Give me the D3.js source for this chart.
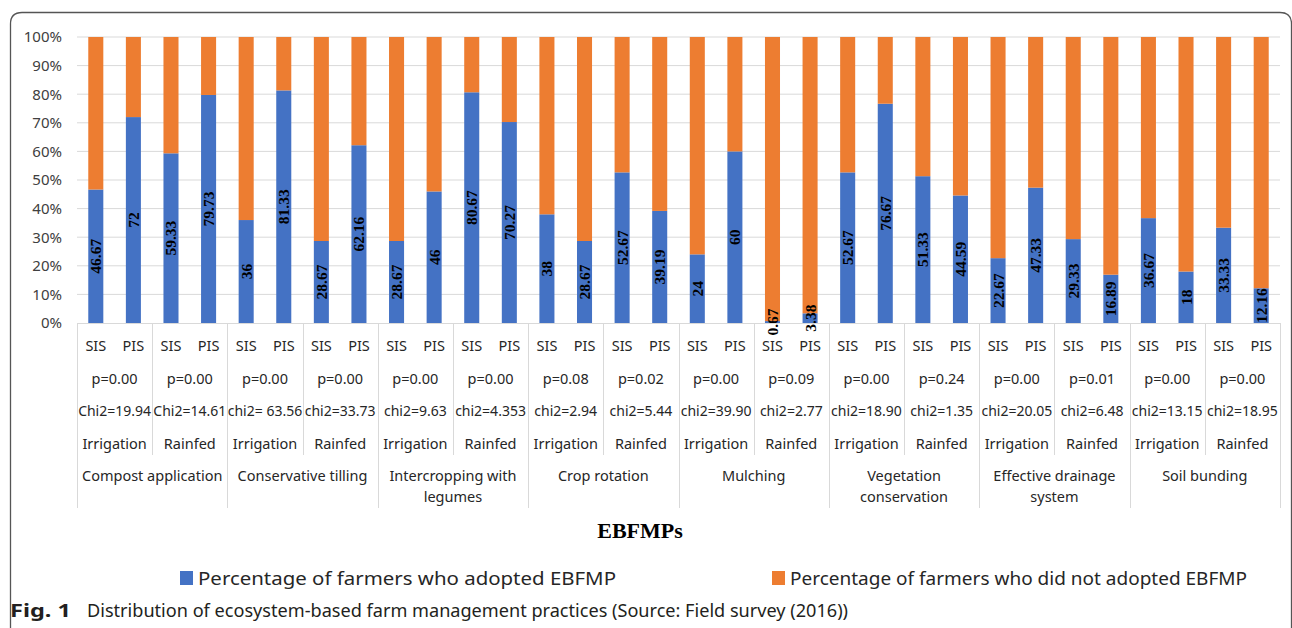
<!DOCTYPE html>
<html><head><meta charset="utf-8">
<script src="https://cdn.jsdelivr.net/npm/d3@7"></script>
<style>body{margin:0;background:#fff;}svg{display:block;}</style>
</head><body>
<svg id="c" width="1292" height="628"></svg>
<script>
const categories = ["Compost application","Conservative tilling","Intercropping with legumes","Crop rotation","Mulching","Vegetation conservation","Effective drainage system","Soil bunding"];
const categoryLines = [["Compost application"],["Conservative tilling"],["Intercropping with","legumes"],["Crop rotation"],["Mulching"],["Vegetation","conservation"],["Effective drainage","system"],["Soil bunding"]];
const systems = ["Irrigation","Rainfed"];
const schemes = ["SIS","PIS"];
const adopted = [46.67,72, 59.33,79.73, 36,81.33, 28.67,62.16, 28.67,46, 80.67,70.27, 38,28.67, 52.67,39.19, 24,60, 0.67,3.38, 52.67,76.67, 51.33,44.59, 22.67,47.33, 29.33,16.89, 36.67,18, 33.33,12.16];
const adoptedLabels = ["46.67","72","59.33","79.73","36","81.33","28.67","62.16","28.67","46","80.67","70.27","38","28.67","52.67","39.19","24","60","0.67","3.38","52.67","76.67","51.33","44.59","22.67","47.33","29.33","16.89","36.67","18","33.33","12.16"];
const notAdopted = adopted.map(v => 100 - v);
const pValues = ["p=0.00","p=0.00","p=0.00","p=0.00","p=0.00","p=0.00","p=0.08","p=0.02","p=0.00","p=0.09","p=0.00","p=0.24","p=0.00","p=0.01","p=0.00","p=0.00"];
const chiValues = ["Chi2=19.94","Chi2=14.61","chi2= 63.56","chi2=33.73","chi2=9.63","chi2=4.353","chi2=2.94","chi2=5.44","chi2=39.90","chi2=2.77","chi2=18.90","chi2=1.35","chi2=20.05","chi2=6.48","chi2=13.15","chi2=18.95"];
const yTicks = [0,10,20,30,40,50,60,70,80,90,100];
const seriesNames = ["Percentage of farmers who adopted EBFMP","Percentage of farmers who did not adopted EBFMP"];
const colors = ["#4472C4","#ED7D31"];

const svg = d3.select("#c");
const L = 77, R = 1280, T = 37, B = 323;
const sans = "'Noto Sans', sans-serif";

// frame
svg.append("path")
  .attr("d", `M10.5,640 L10.5,24 Q10.5,12.5 22,12.5 L1280,12.5 Q1291.5,12.5 1291.5,24 L1291.5,640`)
  .attr("fill","none").attr("stroke","#555").attr("stroke-width",1.3);

const rows = [];
adopted.forEach((v,i)=>rows.push({i, a:v, n:notAdopted[i], lab:adoptedLabels[i]}));

const x = d3.scaleBand().domain(d3.range(adopted.length)).range([L,R]).paddingInner(0.6).paddingOuter(0.3);
const y = d3.scaleLinear().domain([0,100]).range([B,T]);

// gridlines
svg.append("g").selectAll("line").data(yTicks.filter(t=>t>0)).join("line")
  .attr("x1",L).attr("x2",R).attr("y1",d=>y(d)).attr("y2",d=>y(d))
  .attr("stroke","#d9d9d9").attr("stroke-width",1);

// y axis labels
const yAxis = d3.axisLeft(y).tickValues(yTicks).tickFormat(d=>d+"%").tickSize(0).tickPadding(15);
const yg = svg.append("g").attr("transform",`translate(${L},0)`).call(yAxis);
yg.select(".domain").remove();
yg.selectAll("text").attr("font-family",sans).attr("font-size",15).attr("fill","#404040");

// stacked bars
const stack = d3.stack().keys(["a","n"])(rows);
svg.append("g").selectAll("g").data(stack).join("g").attr("fill",(d,k)=>colors[k])
  .selectAll("rect").data(d=>d).join("rect")
  .attr("x",d=>x(d.data.i)).attr("width",x.bandwidth())
  .attr("y",d=>y(d[1])).attr("height",d=>y(d[0])-y(d[1]));

// data labels
svg.append("g").selectAll("text").data(rows).join("text")
  .attr("transform",d=>`translate(${x(d.i)+x.bandwidth()/2+5.5},${y(d.a/2)}) rotate(-90)`)
  .attr("text-anchor","middle")
  .attr("font-family","'Liberation Serif', serif").attr("font-weight","bold").attr("font-size",15.5)
  .attr("fill","#000").text(d=>d.lab);

// x axis line
svg.append("line").attr("x1",L).attr("x2",R).attr("y1",B+0.5).attr("y2",B+0.5).attr("stroke","#d9d9d9");

// separators
const step = x.step();
const sepG = svg.append("g").attr("stroke","#d9d9d9").attr("stroke-width",1);
for (let k=0;k<=16;k++){
  const xx = Math.round(L + k*2*step)+0.5;
  const full = k%2===0;
  sepG.append("line").attr("x1",xx).attr("x2",xx).attr("y1",B).attr("y2",full?508:455);
}

const tx = (t,xx,yy,opts={})=>svg.append("text").attr("x",xx).attr("y",yy).attr("text-anchor","middle")
  .attr("font-family",sans).attr("font-size",opts.size||14.5).attr("fill","#262626").text(t);

// SIS/PIS
adopted.forEach((v,i)=>tx(schemes[i%2], x(i)+x.bandwidth()/2, 351));
// p, chi2, system
pValues.forEach((p,k)=>{
  const cx = L + (k*2+1)*step;
  tx(p,cx,384);
  tx(chiValues[k],cx,416,{size:14});
  tx(systems[k%2],cx,449);
});
categoryLines.forEach((lines,c)=>{
  const cx = L + (c*4+2)*step;
  lines.forEach((ln,j)=>tx(ln,cx,481+j*21));
});

// axis title
svg.append("text").attr("x",640).attr("y",538).attr("text-anchor","middle")
  .attr("font-family","'Liberation Serif', serif").attr("font-weight","bold").attr("font-size",22)
  .attr("fill","#000").text("EBFMPs");

// legend
const legX = [180, 772];
const legW = [418, 457];
seriesNames.forEach((s,k)=>{
  svg.append("rect").attr("x",legX[k]).attr("y",571).attr("width",13).attr("height",14).attr("fill",colors[k]);
  svg.append("text").attr("x",legX[k]+18).attr("y",585).attr("font-family",sans).attr("font-size",18.5)
    .attr("fill","#262626").attr("textLength",legW[k]).attr("lengthAdjust","spacingAndGlyphs").text(s);
});

// caption
svg.append("text").attr("x",10).attr("y",617).attr("font-family",sans).attr("font-size",17.5).attr("font-weight","bold")
  .attr("fill","#231f20").attr("textLength",61).attr("lengthAdjust","spacingAndGlyphs").text("Fig. 1");
svg.append("text").attr("x",87).attr("y",617).attr("font-family",sans).attr("font-size",17.5)
  .attr("fill","#231f20").attr("textLength",761).attr("lengthAdjust","spacingAndGlyphs")
  .text("Distribution of ecosystem-based farm management practices (Source: Field survey (2016))");
</script>
</body></html>
